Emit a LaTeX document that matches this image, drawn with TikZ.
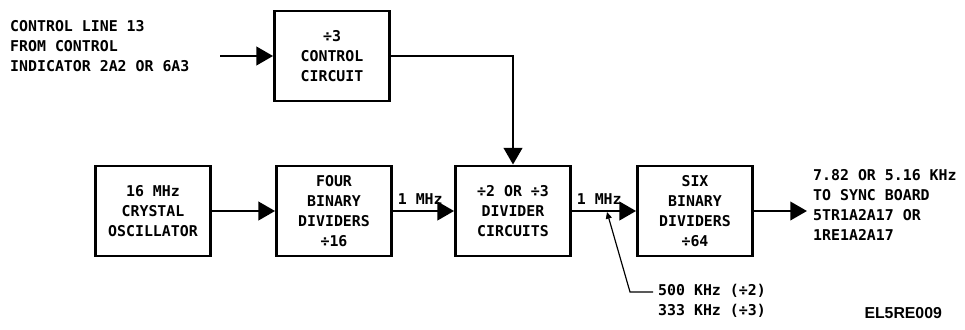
\documentclass[tikz,border=0pt]{standalone}
\usepackage{fontspec}
\setmonofont{DejaVu Sans Mono}
\newfontfamily\tagfont{Liberation Sans}
\usetikzlibrary{arrows.meta}

\begin{document}
\begin{tikzpicture}[
    x=0.03cm, y=-0.03cm,
    font=\ttfamily\bfseries\fontsize{12.7}{17}\selectfont,
    blk/.style={draw, line width=2.4pt, align=center, inner sep=0pt,
        minimum width=3.45cm, minimum height=2.7cm},
    flow/.style={line width=2.4pt, -{Triangle[length=0.5cm, width=0.55cm]}},
    lbl/.style={align=left, inner sep=0pt},
    leader/.style={line width=1pt, -{Triangle[length=0.2cm, width=0.18cm]}},
]
% pixel grid of the drawing: 965 x 329, y runs downwards
\useasboundingbox (0,0) rectangle (965,329);

% blocks
\node[blk] (ctl) at (332,56) {÷3\\CONTROL\\CIRCUIT};
\node[blk, minimum height=2.7cm] (osc) at (153,211) {16 MHz\\CRYSTAL\\OSCILLATOR};
\node[blk] (four) at (334,211) {FOUR\\BINARY\\DIVIDERS\\÷16};
\node[blk] (div) at (513,211) {÷2 OR ÷3\\DIVIDER\\CIRCUITS};
\node[blk] (six) at (695,211) {SIX\\BINARY\\DIVIDERS\\÷64};

% control input
\node[lbl, anchor=west] (src) at (10,46)
    {CONTROL LINE 13\\FROM CONTROL\\INDICATOR 2A2 OR 6A3};
\coordinate (ctlin) at (220,56);
\draw[flow] (ctlin) -- (ctl.west);
\draw[flow] (ctl.east) -| (div.north);

% main chain
\draw[flow] (osc.east) -- (four.west);
\draw[flow] (four.east) -- node[lbl, pos=0, anchor=south west,
    xshift=3pt, yshift=4pt] {1 MHz} (div.west);
\draw[flow] (div.east) -- node[lbl, pos=0, anchor=south west,
    xshift=3pt, yshift=4pt] {1 MHz} (six.west);

% output
\coordinate (out) at (807,211);
\draw[flow] (six.east) -- (out);
\node[lbl, anchor=west] (dst) at (813,205)
    {7.82 OR 5.16 KHz\\TO SYNC BOARD\\5TR1A2A17 OR\\1RE1A2A17};

% tap on the 1 MHz line
\coordinate (tap) at (607,212);
\coordinate (bend) at (630,292);
\coordinate (lead) at (653,292);
\node[lbl, anchor=north west] (rates) at (658,284)
    {500 KHz (÷2)\\333 KHz (÷3)};
\draw[leader] (lead) -- (bend) -- (tap);

% figure tag
\node[font=\tagfont\bfseries\fontsize{13.5}{16}\selectfont, anchor=east]
    (tag) at (946,313) {EL5RE009};
\end{tikzpicture}
\end{document}
